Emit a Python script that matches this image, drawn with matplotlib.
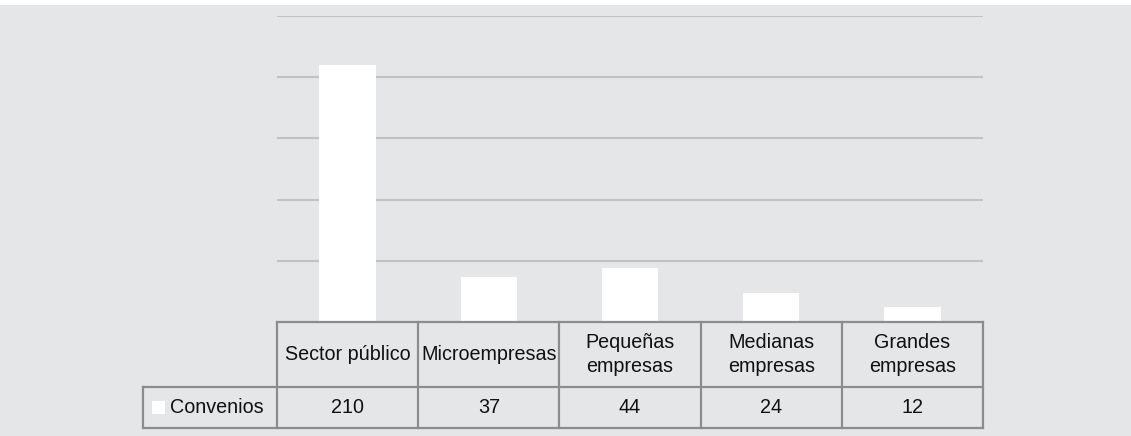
import matplotlib
matplotlib.use("Agg")
import matplotlib.pyplot as plt
from matplotlib.patches import Rectangle

# Data
categories = ['Sector público', 'Microempresas', 'Pequeñas\nempresas',
              'Medianas\nempresas', 'Grandes\nempresas']
convenios = [210, 37, 44, 24, 12]
series_name = 'Convenios'
grid_values = [50, 100, 150, 200, 250]

plt.rcParams['font.family'] = ['Liberation Sans', 'DejaVu Sans']

bg = '#e5e6e7'
edge = '#8c8c8c'

fig = plt.figure(figsize=(11.31, 4.36), dpi=100, facecolor=bg)
fig.patches.append(Rectangle((0, 1 - 5 / 436), 1, 5 / 436, transform=fig.transFigure,
                             facecolor='white', edgecolor='none'))

ax = fig.add_axes([277 / 1131, 114 / 436, 706 / 1131, 306 / 436])
ax.set_facecolor(bg)
x = list(range(len(categories)))
for g in grid_values:
    ax.axhline(g, color='#c2c2c2', lw=1.5, zorder=1)
ax.bar(x, convenios, width=0.4, color='white', zorder=2)
ax.set_xlim(-0.5, len(categories) - 0.5)
ax.set_ylim(0, 250)
ax.set_xticks([])
ax.set_yticks([])
for s in ax.spines.values():
    s.set_visible(False)

# data table under the axes
tr = ax.get_xaxis_transform()
h1 = 65 / 306
h2 = 41 / 306
left = -0.5 - 134 / 141.2
right = len(categories) - 0.5
kw = dict(color=edge, lw=1.6, transform=tr, clip_on=False, solid_capstyle='projecting')
ax.plot([-0.5, right], [0, 0], **kw)
ax.plot([left, right], [-h1, -h1], **kw)
ax.plot([left, right], [-h1 - h2, -h1 - h2], **kw)
ax.plot([left, left], [-h1, -h1 - h2], **kw)
for i in range(len(categories) + 1):
    ax.plot([i - 0.5, i - 0.5], [0, -h1 - h2], **kw)

fs = 14.2
txt = '#111111'
for i, (c, v) in enumerate(zip(categories, convenios)):
    ax.text(i, -h1 / 2, c, transform=tr, ha='center', va='center', fontsize=fs,
            linespacing=1.35, color=txt)
    ax.text(i, -h1 - h2 / 2, str(v), transform=tr, ha='center', va='center',
            fontsize=fs, color=txt)

ax.add_patch(Rectangle((left + 9 / 141.2, -h1 - h2 / 2 - 6.5 / 306), 13 / 141.2, 13 / 306,
                       transform=tr, facecolor='white', edgecolor='none', clip_on=False))
ax.text(left + 27 / 141.2, -h1 - h2 / 2, series_name, transform=tr, ha='left', va='center',
        fontsize=fs, color=txt)

fig.savefig('out.png', dpi=100, facecolor=bg)
